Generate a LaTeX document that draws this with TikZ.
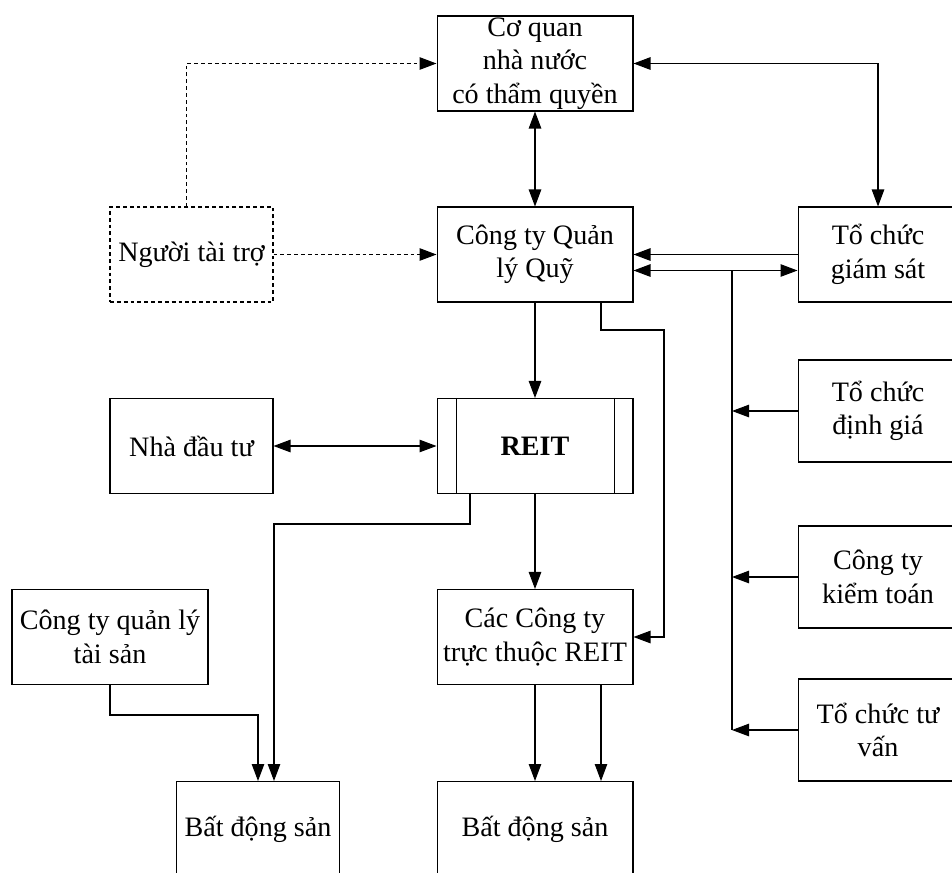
\documentclass[tikz,border=0pt]{standalone}
\usepackage{fontspec}
\setmainfont{Liberation Serif}
\usetikzlibrary{arrows.meta,calc}

\tikzset{
  box/.style={draw, align=center, inner sep=0pt, minimum width=3.92cm, minimum height=1.9cm},
  sidebox/.style={box, minimum width=3.26cm},
  rightbox/.style={box, minimum width=3.2cm},
  tallbox/.style={rightbox, minimum height=2.04cm},
  tip/.style={-{Triangle[length=0.34cm,width=0.25cm]}},
  tips/.style={{Triangle[length=0.34cm,width=0.25cm]}-{Triangle[length=0.34cm,width=0.25cm]}},
  sponsor/.style={dash pattern=on 2.2pt off 1.7pt}
}

\begin{document}
\begin{tikzpicture}[x=0.02cm, y=-0.02cm, line width=0.6pt, font=\fontsize{16}{19}\selectfont]
\useasboundingbox (0,0) rectangle (952,872);

\node[box] (coquan) at (535,63.5) {Cơ quan\\nhà nước\\có thẩm quyền};
\node[box] (ctqlq) at (535,254.5) {Công ty Quản\\lý Quỹ};
\node[sidebox, sponsor] (taitro) at (191.5,254.5) {Người tài trợ};
\node[rightbox] (giamsat) at (878,254.5) {Tổ chức\\giám sát};
\node[box] (reit) at (535,446) {\textbf{REIT}};
\draw ($(reit.north west)+(20,0)$) -- ($(reit.south west)+(20,0)$);
\draw ($(reit.north east)+(-19,0)$) -- ($(reit.south east)+(-19,0)$);
\node[sidebox] (nhadautu) at (191.5,446) {Nhà đầu tư};
\node[tallbox] (dinhgia) at (878,411) {Tổ chức\\định giá};
\node[tallbox] (kiemtoan) at (878,577) {Công ty\\kiểm toán};
\node[tallbox] (tuvan) at (878,730) {Tổ chức tư\\vấn};
\node[box] (caccty) at (535,637) {Các Công ty\\trực thuộc REIT};
\node[box] (ctqlts) at (110,637) {Công ty quản lý\\tài sản};
\node[sidebox] (bds1) at (258,829) {Bất động sản};
\node[box] (bds2) at (535,829) {Bất động sản};

\coordinate (bustop) at (732,271);
\coordinate (busend) at (732,730);
\coordinate (j1) at (664,330);
\coordinate (j2) at (274,524);
\coordinate (j3) at (258,715);

\draw[tips] (coquan.south) -- (ctqlq.north);
\draw[tip, sponsor] ($(taitro.north)+(-5,0)$) |- (coquan.west);
\draw[tip, sponsor] (taitro.east) -- (ctqlq.west);
\draw[tips] (coquan.east) -| (giamsat.north);
\draw[tip] (giamsat.west) -- (ctqlq.east);
\draw[tips] ($(ctqlq.east)+(0,16)$) -- ($(giamsat.west)+(0,16)$);
\draw (bustop) -- (busend);
\draw[tip] (dinhgia.west) -- (dinhgia.west -| bustop);
\draw[tip] (kiemtoan.west) -- (kiemtoan.west -| bustop);
\draw[tip] (tuvan.west) -- (busend);
\draw[tip] (ctqlq.south) -- (reit.north);
\draw[tip] ($(ctqlq.south)+(66,0)$) |- (j1) |- (caccty.east);
\draw[tips] (nhadautu.east) -- (reit.west);
\draw[tip] (reit.south) -- (caccty.north);
\draw[tip] ($(reit.south)+(-65,0)$) |- (j2) -- (j2 |- bds1.north);
\draw[tip] (ctqlts.south) |- (j3) -- (bds1.north);
\draw[tip] (caccty.south) -- (bds2.north);
\draw[tip] ($(caccty.south)+(66,0)$) -- ($(bds2.north)+(66,0)$);
\end{tikzpicture}
\end{document}
